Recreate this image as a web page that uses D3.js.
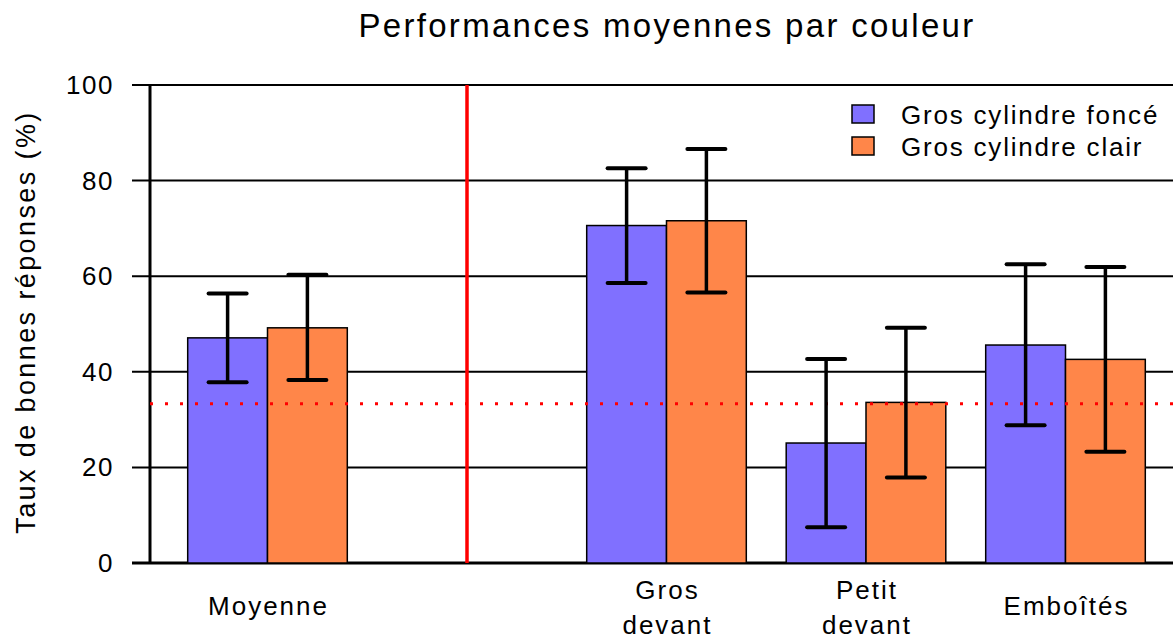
<!DOCTYPE html>
<html>
<head>
<meta charset="utf-8">
<script src="https://cdn.jsdelivr.net/npm/d3@7"></script>
<style>
  body { margin: 0; background: #fff; }
  text { font-family: "Liberation Sans", Arial, sans-serif; fill: #000; }
</style>
</head>
<body>
<div id="chart"></div>
<script>
// data
const categories = ["Moyenne", "", "Gros|devant", "Petit|devant", "Emboîtés"];
const series = ["Gros cylindre foncé", "Gros cylindre clair"];
const colors = ["#8070ff", "#ff8649"];
// null = empty slot (separator)
const meanDark = [47.1, null, 70.6, 25.1, 45.6];
const lowDark = [37.8, null, 58.6, 7.5, 28.8];
const highDark = [56.4, null, 82.6, 42.7, 62.5];
const meanLight = [49.2, null, 71.6, 33.6, 42.6];
const lowLight = [38.3, null, 56.6, 17.9, 23.3];
const highLight = [60.3, null, 86.6, 49.2, 61.9];
const yTicks = [0, 20, 40, 60, 80, 100];
const chance = 33.33;

const width = 1173;
const height = 638;
const svg = d3.select("#chart").append("svg")
  .attr("width", width).attr("height", height);

const mLeft = 150, mTop = 85, mBottom = 563, mRight = 1173;

const y = d3.scaleLinear().domain([0, 100]).range([mBottom, mTop]);
const x = d3.scaleBand().domain(d3.range(categories.length))
  .range([167.75, 1165.25]);
const inner = d3.scaleBand().domain(d3.range(series.length))
  .range([0, x.bandwidth() * 0.8]);
const off = x.bandwidth() * 0.1;

// title
svg.append("text")
  .attr("x", 667).attr("y", 37)
  .attr("text-anchor", "middle")
  .style("font-size", "33px")
  .style("letter-spacing", "2.3px")
  .text("Performances moyennes par couleur");

// grid
svg.append("g")
  .selectAll("line")
  .data(yTicks)
  .join("line")
  .attr("x1", mLeft - 18).attr("x2", mRight)
  .attr("y1", d => y(d)).attr("y2", d => y(d))
  .attr("stroke", "#000")
  .attr("stroke-width", d => d === 0 ? 3 : 2);

svg.append("g")
  .selectAll("text")
  .data(yTicks)
  .join("text")
  .attr("x", 114).attr("y", d => y(d) + 9)
  .attr("text-anchor", "end")
  .style("font-size", "26px")
  .style("letter-spacing", "1.5px")
  .text(d => d);

svg.append("line")
  .attr("x1", mLeft).attr("x2", mLeft)
  .attr("y1", mTop).attr("y2", mBottom)
  .attr("stroke", "#000").attr("stroke-width", 3);

svg.append("text")
  .attr("transform", "translate(35," + (y(50) - 2) + ") rotate(-90)")
  .attr("text-anchor", "middle")
  .style("font-size", "27px")
  .style("letter-spacing", "2.4px")
  .text("Taux de bonnes réponses (%)");

// separator
svg.append("line")
  .attr("x1", x(1) + x.bandwidth() / 2).attr("x2", x(1) + x.bandwidth() / 2)
  .attr("y1", mTop).attr("y2", mBottom)
  .attr("stroke", "#ff0000").attr("stroke-width", 3.5);

// bars
const rows = [];
categories.forEach((c, i) => {
  if (meanDark[i] === null) return;
  rows.push({ i, s: 0, m: meanDark[i], lo: lowDark[i], hi: highDark[i] });
  rows.push({ i, s: 1, m: meanLight[i], lo: lowLight[i], hi: highLight[i] });
});

svg.append("g")
  .selectAll("rect")
  .data(rows)
  .join("rect")
  .attr("x", d => x(d.i) + off + inner(d.s))
  .attr("y", d => y(d.m))
  .attr("width", inner.bandwidth())
  .attr("height", d => y(0) - y(d.m))
  .attr("fill", d => colors[d.s])
  .attr("stroke", "#000")
  .attr("stroke-width", 1.5);

// chance line
svg.append("line")
  .attr("x1", mLeft).attr("x2", mRight)
  .attr("y1", y(chance)).attr("y2", y(chance))
  .attr("stroke", "#ff0000")
  .attr("stroke-width", 3)
  .attr("stroke-dasharray", "3,12");

// error bars
const eb = svg.append("g").attr("stroke", "#000").attr("stroke-width", 4);
rows.forEach(d => {
  const cx = x(d.i) + off + inner(d.s) + inner.bandwidth() / 2;
  eb.append("line").attr("x1", cx).attr("x2", cx)
    .attr("y1", y(d.lo)).attr("y2", y(d.hi)).attr("stroke-width", 3.5);
  [d.lo, d.hi].forEach(v => {
    eb.append("line").attr("x1", cx - 19).attr("x2", cx + 19)
      .attr("y1", y(v)).attr("y2", y(v))
      .attr("stroke-linecap", "round");
  });
});

// x labels
categories.forEach((c, i) => {
  if (!c) return;
  const parts = c.split("|");
  const cx = x(i) + x.bandwidth() / 2 + 1;
  const t = svg.append("text")
    .attr("text-anchor", "middle")
    .style("font-size", "26px")
    .style("letter-spacing", "2px");
  if (parts.length === 1) {
    t.attr("x", cx).attr("y", 615).text(parts[0]);
  } else {
    parts.forEach((p, k) => {
      t.append("tspan").attr("x", cx).attr("y", 599 + k * 35).text(p);
    });
  }
});

// legend
const lg = svg.append("g").attr("transform", "translate(852,105)");
series.forEach((s, k) => {
  lg.append("rect")
    .attr("x", 0).attr("y", k * 32)
    .attr("width", 22).attr("height", 18)
    .attr("fill", colors[k]).attr("stroke", "#000").attr("stroke-width", 1.5);
  lg.append("text")
    .attr("x", 49).attr("y", k * 32 + 19)
    .style("font-size", "26px")
    .style("letter-spacing", "1.8px")
    .text(s);
});
</script>
</body>
</html>
